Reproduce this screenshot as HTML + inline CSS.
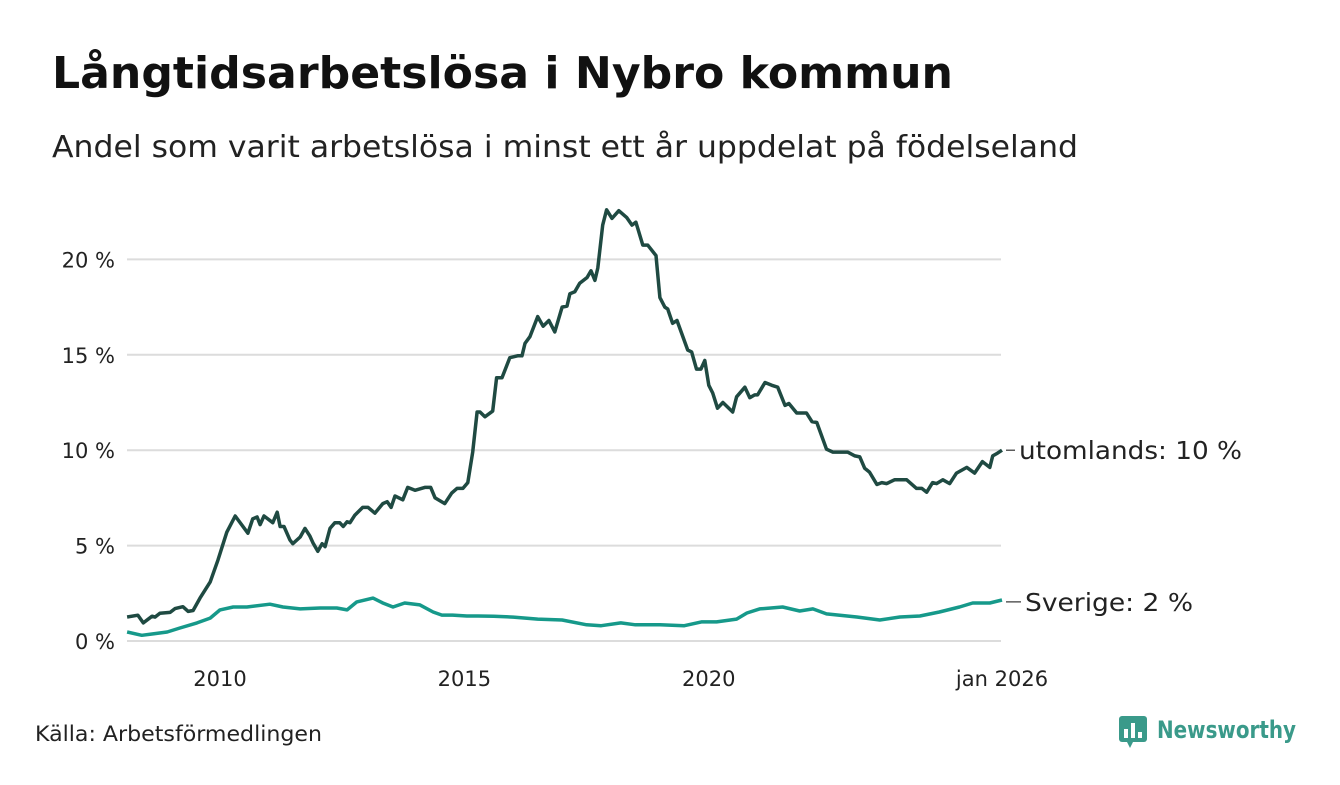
<!DOCTYPE html>
<html><head><meta charset="utf-8"><style>
body{margin:0;background:#fff;}
svg text{font-family:"DejaVu Sans","Liberation Sans",sans-serif;}
</style></head><body>
<svg id="chart" width="1340" height="780" xmlns="http://www.w3.org/2000/svg">
<rect width="1340" height="780" fill="#fff"/>
<text x="52" y="88" font-size="44" font-weight="bold" fill="#111" textLength="901" lengthAdjust="spacingAndGlyphs">Långtidsarbetslösa i Nybro kommun</text>
<text x="52" y="157" font-size="30" fill="#222" textLength="1026" lengthAdjust="spacingAndGlyphs">Andel som varit arbetslösa i minst ett år uppdelat på födelseland</text>
<g id="grid"></g><g id="yaxis"></g><g id="xaxis"></g><g id="series"></g><g id="labels"></g>
<text x="35" y="741" font-size="21" fill="#222" textLength="287" lengthAdjust="spacingAndGlyphs">Källa: Arbetsförmedlingen</text>
<g>
<rect x="1119" y="716" width="28" height="26" rx="3" fill="#3a9a8a"/>
<polygon points="1127,742 1133,742 1130,748" fill="#3a9a8a"/>
<rect x="1124" y="729" width="4" height="9" fill="#fff"/><rect x="1131" y="723" width="4" height="15" fill="#fff"/><rect x="1138" y="732" width="4" height="6" fill="#fff"/>
<text x="1157" y="738" font-size="24" font-weight="bold" fill="#3a9a8a" textLength="139" lengthAdjust="spacingAndGlyphs">Newsworthy</text>
</g>
</svg>
<script>
const yTicks=[0,5,10,15,20];
const yTickLabels=["0 %","5 %","10 %","15 %","20 %"];
const xTicks=[2010,2015,2020,2026];
const xTickLabels=["2010","2015","2020","jan 2026"];
const utomDates=[2008.10,2008.32,2008.43,2008.61,2008.67,2008.77,2008.98,2009.08,2009.24,2009.35,2009.45,2009.59,2009.80,2009.96,2010.14,2010.31,2010.57,2010.67,2010.76,2010.82,2010.90,2011.08,2011.17,2011.23,2011.31,2011.43,2011.49,2011.64,2011.74,2011.84,2011.90,2012.00,2012.09,2012.15,2012.25,2012.35,2012.45,2012.52,2012.60,2012.66,2012.76,2012.92,2013.03,2013.17,2013.33,2013.42,2013.50,2013.58,2013.74,2013.84,2013.99,2014.19,2014.31,2014.40,2014.60,2014.74,2014.85,2014.97,2015.07,2015.17,2015.26,2015.32,2015.42,2015.58,2015.66,2015.77,2015.93,2016.09,2016.18,2016.24,2016.34,2016.50,2016.61,2016.73,2016.85,2017.00,2017.10,2017.16,2017.26,2017.36,2017.51,2017.59,2017.67,2017.73,2017.83,2017.91,2018.02,2018.16,2018.32,2018.43,2018.51,2018.65,2018.75,2018.92,2019.00,2019.10,2019.16,2019.26,2019.35,2019.57,2019.65,2019.75,2019.84,2019.92,2020.00,2020.08,2020.18,2020.29,2020.49,2020.57,2020.74,2020.84,2020.94,2021.00,2021.15,2021.29,2021.41,2021.56,2021.64,2021.80,2022.00,2022.11,2022.21,2022.41,2022.54,2022.74,2022.84,2022.99,2023.09,2023.19,2023.29,2023.44,2023.54,2023.64,2023.80,2023.95,2024.05,2024.25,2024.36,2024.46,2024.58,2024.66,2024.79,2024.93,2025.07,2025.28,2025.44,2025.60,2025.75,2025.81,2025.91,2026.00];
const utomValues=[1.26,1.35,0.95,1.3,1.25,1.45,1.5,1.7,1.8,1.55,1.6,2.25,3.1,4.25,5.7,6.55,5.65,6.4,6.5,6.1,6.55,6.2,6.75,6.0,6.0,5.3,5.1,5.45,5.9,5.5,5.15,4.7,5.1,4.95,5.9,6.2,6.2,6.0,6.25,6.2,6.6,7.0,7.0,6.7,7.2,7.3,7.0,7.6,7.4,8.05,7.9,8.05,8.05,7.5,7.2,7.75,8.0,8.0,8.3,9.9,12.0,12.0,11.75,12.05,13.8,13.8,14.85,14.95,14.95,15.6,15.95,17.0,16.5,16.8,16.2,17.5,17.55,18.2,18.3,18.75,19.05,19.4,18.9,19.55,21.8,22.6,22.15,22.55,22.2,21.8,21.95,20.75,20.75,20.2,18.0,17.5,17.4,16.65,16.8,15.25,15.15,14.25,14.25,14.7,13.4,13.0,12.2,12.5,12.0,12.8,13.3,12.75,12.9,12.9,13.55,13.4,13.3,12.35,12.45,11.95,11.95,11.5,11.45,10.05,9.9,9.9,9.9,9.7,9.65,9.05,8.85,8.2,8.3,8.25,8.45,8.45,8.45,8.0,8.0,7.8,8.3,8.25,8.45,8.25,8.8,9.1,8.8,9.4,9.1,9.7,9.85,10.0];
const sveDates=[2008.10,2008.40,2008.63,2008.92,2009.18,2009.53,2009.80,2010.00,2010.27,2010.55,2011.02,2011.29,2011.64,2012.05,2012.39,2012.60,2012.80,2013.13,2013.33,2013.54,2013.78,2014.09,2014.36,2014.54,2014.76,2015.05,2015.28,2015.6,2016.0,2016.5,2017.0,2017.5,2017.8,2018.2,2018.5,2019.0,2019.5,2019.85,2020.16,2020.57,2020.78,2021.04,2021.51,2021.86,2022.13,2022.41,2023.03,2023.50,2023.91,2024.32,2024.72,2025.13,2025.40,2025.75,2026.00];
const sveValues=[0.47,0.3,0.37,0.47,0.68,0.95,1.2,1.63,1.78,1.78,1.93,1.78,1.68,1.73,1.73,1.63,2.05,2.25,1.99,1.78,1.99,1.89,1.52,1.36,1.36,1.31,1.31,1.3,1.25,1.15,1.1,0.85,0.8,0.95,0.85,0.85,0.8,1.0,1.0,1.15,1.47,1.68,1.78,1.57,1.68,1.42,1.26,1.1,1.26,1.31,1.52,1.78,1.99,1.99,2.15];
const NS="http://www.w3.org/2000/svg";
const X0=127,X1=1001;
function xs(t){return 220+(t-2010)*(1002-220)/16;}
function ys(v){return 641-v*19.08;}
function mk(tag,attrs,parent){const e=document.createElementNS(NS,tag);for(const k in attrs)e.setAttribute(k,attrs[k]);document.getElementById(parent).appendChild(e);return e;}
yTicks.forEach((v,i)=>{
  const l=mk('line',{x1:X0,x2:X1,y1:ys(v),y2:ys(v),stroke:'#dcdcdc','stroke-width':2},'grid');
  
  
  const t=mk('text',{x:115,y:ys(v)+8,'text-anchor':'end','font-size':21,fill:'#222'},'yaxis');
  t.textContent=yTickLabels[i];
  
  
});
xTicks.forEach((v,i)=>{
  const t=mk('text',{x:xs(v),y:686,'text-anchor':'middle','font-size':21,fill:'#222'},'xaxis');
  t.textContent=xTickLabels[i];
  
  
});
function line(d,v,color,name){
  const p=d.map((t,i)=>(i?'L':'M')+xs(t).toFixed(1)+','+ys(v[i]).toFixed(1)).join('');
  const e=mk('path',{d:p,fill:'none',stroke:color,'stroke-width':3.5,'stroke-linejoin':'round'},'series');
  
  
}
line(sveDates,sveValues,'#16998a','sverige-line');
line(utomDates,utomValues,'#1f4a42','utomlands-line');
function lab(v,text,name,x,w){
  const y=ys(v);
  const l=mk('line',{x1:1006,x2:x-4,y1:y,y2:y,stroke:'#333','stroke-width':1.2},'labels');
  
  
  const t=mk('text',{x:x,y:y+9,'font-size':25,fill:'#222',textLength:w,lengthAdjust:'spacingAndGlyphs'},'labels');
  t.textContent=text;
  
  
}
lab(utomValues[utomValues.length-1],'utomlands: 10 %','utomlands-label',1019,223);
lab(sveValues[sveValues.length-1]-0.1,'Sverige:  2 %','sverige-label',1025,168);
</script>
</body></html>
